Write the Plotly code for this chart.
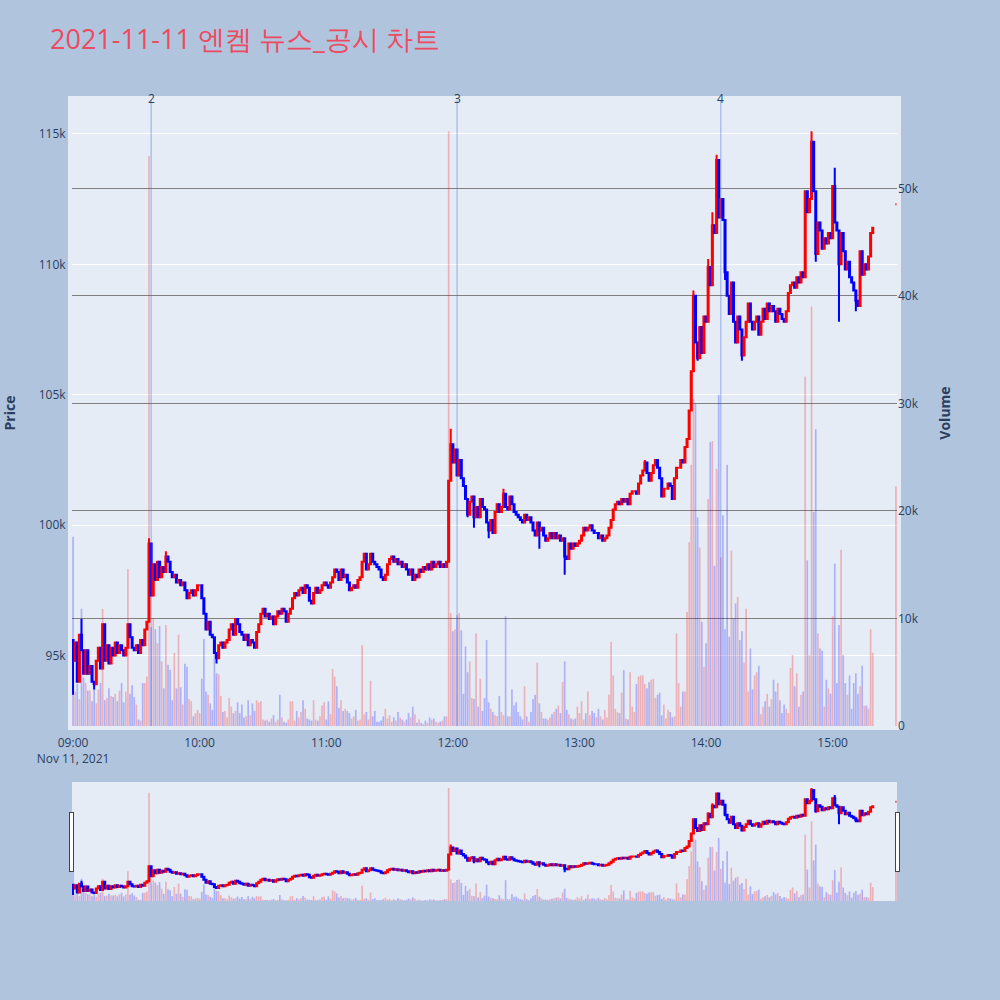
import pandas as pd
import plotly.graph_objects as go

session_date = "2021-11-11"
title_text = "2021-11-11 엔켐 뉴스_공시 차트"

# closes per minute, in units of 100 won
close_09 = [948, 955, 940, 958, 952, 943, 952, 943, 946, 940,
            939, 948, 953, 945, 962, 948, 954, 947, 953, 950,
            955, 951, 954, 952, 950, 953, 962, 957, 953, 952,
            954, 951, 956, 954, 960, 963, 993, 973, 985, 979,
            986, 980, 984, 982, 988, 986, 982, 980, 981, 978,
            979, 977, 978, 975, 972, 974, 975, 973, 975, 977]
close_10 = [977, 972, 966, 960, 963, 958, 957, 951, 949, 954,
            955, 953, 955, 956, 960, 962, 958, 964, 962, 959,
            958, 956, 958, 954, 956, 955, 953, 959, 962, 966,
            968, 965, 966, 964, 965, 962, 965, 967, 966, 968,
            967, 963, 966, 968, 972, 974, 973, 975, 976, 974,
            977, 976, 971, 970, 974, 976, 974, 975, 977, 978]
close_11 = [977, 976, 978, 980, 983, 982, 979, 983, 980, 981,
            978, 975, 976, 977, 976, 979, 980, 986, 989, 983,
            985, 989, 986, 985, 984, 983, 980, 979, 981, 985,
            987, 988, 986, 987, 985, 986, 984, 985, 983, 981,
            983, 979, 981, 980, 983, 982, 984, 983, 985, 983,
            986, 984, 985, 986, 984, 985, 984, 986, 1017, 1031]
close_12 = [1024, 1029, 1019, 1025, 1018, 1015, 1010, 1004, 1009, 1011,
            1003, 1007, 1003, 1010, 1007, 1006, 1001, 998, 1002, 997,
            1005, 1008, 1005, 1007, 1012, 1007, 1006, 1011, 1008, 1005,
            1004, 1003, 1002, 1001, 1004, 1002, 1003, 1001, 998, 996,
            1001, 998, 999, 996, 994, 995, 997, 995, 997, 995,
            996, 994, 995, 988, 987, 993, 991, 993, 992, 993]
close_13 = [994, 996, 999, 998, 999, 1000, 998, 997, 997, 995,
            996, 994, 995, 996, 999, 1002, 1006, 1008, 1009, 1008,
            1010, 1009, 1010, 1008, 1012, 1013, 1013, 1012, 1016, 1019,
            1021, 1024, 1020, 1017, 1020, 1023, 1025, 1022, 1018, 1011,
            1014, 1014, 1016, 1015, 1010, 1018, 1022, 1022, 1025, 1024,
            1030, 1033, 1044, 1059, 1088, 1070, 1064, 1076, 1066, 1080]
close_14 = [1078, 1099, 1092, 1115, 1112, 1140, 1118, 1125, 1117, 1097,
            1088, 1081, 1093, 1078, 1070, 1080, 1075, 1065, 1072, 1078,
            1085, 1078, 1075, 1078, 1080, 1073, 1078, 1083, 1079, 1085,
            1082, 1084, 1082, 1078, 1083, 1081, 1079, 1078, 1082, 1089,
            1092, 1093, 1091, 1095, 1093, 1097, 1095, 1128, 1120, 1125,
            1147, 1128, 1104, 1116, 1113, 1106, 1110, 1108, 1112, 1110]
close_15 = [1130, 1116, 1113, 1100, 1112, 1105, 1098, 1101, 1095, 1093,
            1090, 1086, 1084, 1105, 1096, 1100, 1098, 1103, 1112, 1114]
first_open = 956
# 15:30 closing auction: single print
auction_open = 1123
auction_close = 1123

# notable wicks: minute index -> price (100 won)
high_wicks = {4: 964, 36: 995, 44: 990, 179: 1037, 204: 1014, 271: 1025,
              294: 1090, 301: 1102, 303: 1120, 305: 1142, 350: 1151, 361: 1137}
low_wicks = {0: 935, 10: 937, 68: 947, 187: 1003, 190: 999, 197: 995, 221: 991,
             233: 981, 296: 1063, 309: 1094, 317: 1063, 352: 1101, 363: 1078, 371: 1082}

# volume per minute, in units of 100 shares
vol_09 = [176, 32, 39, 25, 109, 45, 40, 33, 33, 23,
          36, 21, 34, 40, 109, 24, 26, 35, 28, 27,
          30, 23, 33, 40, 22, 32, 146, 30, 38, 27,
          20, 6, 5, 40, 40, 46, 530, 92, 100, 90,
          77, 93, 60, 35, 94, 57, 52, 24, 68, 35,
          85, 36, 20, 58, 55, 25, 23, 9, 12, 15]
vol_10 = [12, 44, 81, 32, 29, 21, 15, 74, 49, 48,
          28, 13, 14, 8, 26, 18, 12, 14, 22, 12,
          20, 8, 9, 24, 10, 21, 14, 24, 22, 23,
          6, 5, 6, 4, 7, 10, 4, 6, 29, 8,
          4, 3, 6, 23, 23, 5, 14, 8, 13, 24,
          16, 7, 6, 5, 24, 6, 5, 9, 19, 22]
vol_11 = [6, 23, 11, 53, 46, 37, 17, 24, 14, 16,
          14, 12, 7, 9, 15, 5, 6, 75, 11, 13,
          6, 42, 9, 14, 4, 4, 5, 9, 16, 7,
          10, 4, 8, 5, 13, 8, 6, 4, 6, 12,
          8, 18, 11, 3, 6, 3, 2, 5, 3, 8,
          6, 7, 4, 3, 4, 5, 9, 9, 553, 105]
vol_12 = [88, 90, 103, 105, 89, 30, 74, 50, 60, 26,
          25, 86, 18, 44, 14, 26, 80, 22, 16, 13,
          10, 9, 28, 13, 10, 102, 9, 9, 34, 19,
          22, 13, 9, 6, 37, 9, 4, 13, 25, 29,
          59, 21, 13, 7, 7, 6, 8, 11, 13, 16,
          19, 12, 41, 60, 15, 11, 7, 6, 7, 18]
vol_13 = [12, 23, 6, 12, 32, 10, 14, 12, 8, 16,
          9, 6, 15, 8, 29, 78, 47, 16, 13, 12,
          31, 52, 7, 6, 50, 18, 13, 39, 46, 47,
          47, 39, 35, 41, 43, 44, 26, 29, 31, 10,
          20, 7, 15, 13, 8, 9, 86, 40, 18, 32,
          32, 106, 171, 243, 304, 300, 194, 166, 97, 55]
vol_14 = [77, 211, 264, 265, 149, 239, 308, 157, 196, 90,
          243, 83, 163, 100, 114, 120, 80, 88, 59, 109,
          32, 72, 34, 47, 50, 56, 11, 18, 23, 30,
          18, 25, 43, 32, 40, 24, 12, 20, 16, 12,
          54, 66, 37, 49, 18, 29, 32, 325, 154, 66,
          390, 199, 276, 86, 72, 70, 18, 43, 35, 30]
vol_15 = [102, 151, 40, 94, 164, 66, 40, 29, 47, 16,
          40, 49, 30, 37, 56, 19, 19, 16, 90, 68]
auction_volume = 223

event_times = ["09:37", "12:02", "14:07"]
event_labels = ["2", "3", "4"]

# ---- assemble ----
reg_closes = close_09 + close_10 + close_11 + close_12 + close_13 + close_14 + close_15
n_regular = len(reg_closes)
closes = reg_closes + [auction_close]
opens = [first_open] + reg_closes[:-1] + [auction_open]
volumes = vol_09 + vol_10 + vol_11 + vol_12 + vol_13 + vol_14 + vol_15 + [auction_volume]

times = pd.date_range(f"{session_date} 09:00", periods=n_regular, freq="min")
times = times.append(pd.DatetimeIndex([pd.Timestamp(f"{session_date} 15:30")]))

highs = [max(o, c, high_wicks.get(i, 0)) for i, (o, c) in enumerate(zip(opens, closes))]
lows = [min(o, c, low_wicks.get(i, 10 ** 6)) for i, (o, c) in enumerate(zip(opens, closes))]

o_w = [v * 100 for v in opens]
h_w = [v * 100 for v in highs]
l_w = [v * 100 for v in lows]
c_w = [v * 100 for v in closes]
v_s = [v * 100 for v in volumes]
vol_colors = ["rgba(255,0,0,0.25)" if c >= o else "rgba(0,0,255,0.25)"
              for o, c in zip(opens, closes)]

fig = go.Figure()
fig.add_trace(go.Candlestick(
    x=times, open=o_w, high=h_w, low=l_w, close=c_w, yaxis="y",
    increasing=dict(line=dict(color="red"), fillcolor="red"),
    decreasing=dict(line=dict(color="blue"), fillcolor="blue"),
    name="Price", showlegend=False))
fig.add_trace(go.Bar(x=times, y=v_s, yaxis="y2",
                     marker=dict(color=vol_colors, line=dict(width=0)),
                     name="Volume", showlegend=False))

for t, lab in zip(event_times, event_labels):
    ts = pd.Timestamp(f"{session_date} {t}")
    fig.add_shape(type="line", xref="x", yref="paper", x0=ts, x1=ts, y0=0, y1=1,
                  line=dict(color="royalblue", width=1), opacity=0.5)
    fig.add_annotation(x=ts, y=1, xref="x", yref="paper", text=lab, showarrow=False,
                       yanchor="middle", yshift=2, font=dict(size=12, color="#2a3f5f"))

frame = dict(showline=True, linewidth=4, linecolor="#E5ECF6", mirror=True)
fig.update_layout(
    template="plotly",
    width=1000, height=1000,
    paper_bgcolor="lightsteelblue",
    plot_bgcolor="#E5ECF6",
    title=dict(text=title_text, x=0.05, y=0.96, yanchor="middle",
               font=dict(size=27, color="#EC4B61")),
    margin=dict(l=72, r=103, t=100, b=274, autoexpand=False),
    showlegend=False,
    xaxis=dict(domain=[0, 1], ticks="outside", ticklen=3, tickcolor="rgba(0,0,0,0)",
               rangeslider=dict(visible=True, thickness=0.19, bgcolor="#E5ECF6"),
               **frame),
    yaxis=dict(title=dict(text="<b>Price</b>", font=dict(size=14), standoff=22), **frame),
    yaxis2=dict(title=dict(text="<b>Volume</b>", font=dict(size=14), standoff=22),
                overlaying="y", side="right",
                showgrid=True, gridcolor="gray", zeroline=False),
)
fig.write_html("out.html", config={"displayModeBar": False},
               post_script="document.body.style.margin='0';document.body.style.overflow='hidden';")
